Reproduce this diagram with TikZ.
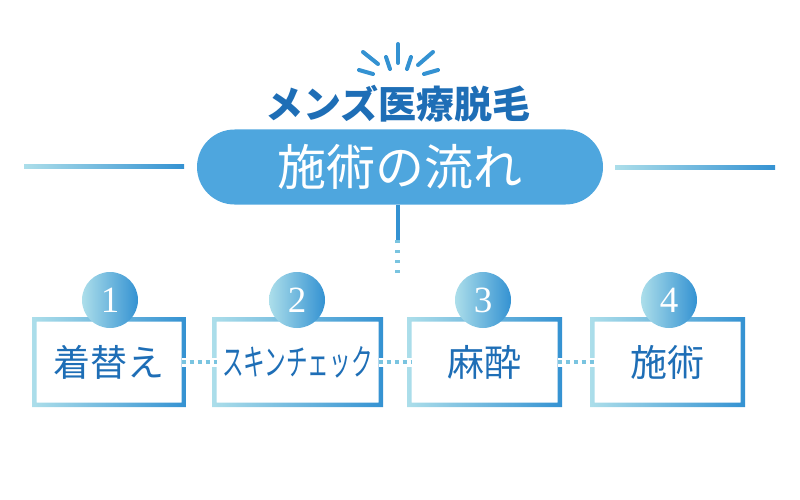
\documentclass[tikz,border=0pt]{standalone}
\usepackage{fontspec}
\setmainfont{Liberation Serif}
\newfontfamily\cjk{Noto Sans CJK JP}
\newfontfamily\cjknarrow[FakeStretch=0.6]{Noto Sans CJK JP}
\usepackage{tikz}
\usetikzlibrary{shapes}
\definecolor{dark}{RGB}{30, 110, 182}
\definecolor{mid}{RGB}{52, 146, 210}
\definecolor{pale}{RGB}{172, 222, 234}
\definecolor{pill}{RGB}{78, 166, 222}
\definecolor{dots}{RGB}{122, 196, 224}
\newcommand*{\stepw}{154}
\newcommand*{\steph}{90}

\begin{document}
\begin{tikzpicture}[
   x=1pt, y=-1pt,
   titlepill/.style={rounded rectangle, fill=pill, text=white, inner sep=0,
                     minimum width=406, minimum height=75,
                     font=\cjk\fontsize{49}{49}\selectfont},
   headline/.style={text=dark, inner sep=0,
                    font=\cjk\bfseries\fontsize{38}{38}\selectfont},
   stepbox/.style={rectangle, inner sep=0, outer sep=0, text=dark,
                   minimum width=\stepw, minimum height=\steph,
                   font=\cjk\fontsize{37}{37}\selectfont},
   stepnum/.style={circle, left color=pale, right color=mid, text=white,
                   inner sep=0, minimum size=56, font=\fontsize{37}{37}\selectfont},
   frame/.style={even odd rule, left color=pale, right color=mid},
   ray/.style={mid, line width=4, line cap=round},
   stem/.style={mid, line width=4},
   stemdash/.style={dots, line width=4.5, dash pattern=on 3pt off 7pt},
   link/.style={dots, line width=4.5, dash pattern=on 4.5pt off 3.5pt,
                preaction={draw=white, line width=9, solid}}
  ]

  \useasboundingbox (0, 0) rectangle (800, 500);

  % Sparkle
  \foreach \xa/\ya/\xb/\yb in {359/70/373/74, 363/52/378/64, 386/57/390/69,
                               398/44/398/63, 411/57/407/69, 433/52/418/65,
                               438/70/424/74} {
    \draw[ray] (\xa, \ya) -- (\xb, \yb);
  }

  \node (head) at (398, 104) [headline] {メンズ医療脱毛};
  \node (title) at (400, 167) [titlepill] {施術の流れ};

  \shade[left color=pale, right color=mid] (24, 164.5) rectangle (184, 168.5);
  \shade[left color=pale, right color=mid] (615, 165) rectangle (775, 169);

  \coordinate (stemA) at (397.5, 240);
  \coordinate (stemB) at (397.5, 274);
  \draw[stem] (title.south -| stemA) -- (stemA);
  \draw[stemdash] (stemA) -- (stemB);

  % Steps
  \node (S1) at (109, 362) [stepbox] {着替え};
  \node (S2) at (297.5, 362) [stepbox, minimum width=171,
                              font=\cjknarrow\fontsize{36}{36}\selectfont] {スキンチェック};
  \node (S3) at (484.5, 362) [stepbox, minimum width=155] {麻酔};
  \node (S4) at (667.5, 362) [stepbox, minimum width=155] {施術};

  \foreach \S in {S1, S2, S3, S4} {
    \shade[frame] (\S.north west) rectangle (\S.south east)
      ([shift={(4.5, 4.5)}]\S.north west) rectangle ([shift={(-4.5, -4.5)}]\S.south east);
  }

  \foreach \B/\E in {S1/S2, S2/S3, S3/S4} {
    \draw[link] ([xshift=-4.5pt]\B.east) -- ([xshift=4.5pt]\E.west);
  }

  \node (N1) at (110, 300) [stepnum] {1};
  \node (N2) at (297, 300) [stepnum] {2};
  \node (N3) at (483, 300) [stepnum] {3};
  \node (N4) at (669, 300) [stepnum] {4};

\end{tikzpicture}
\end{document}
